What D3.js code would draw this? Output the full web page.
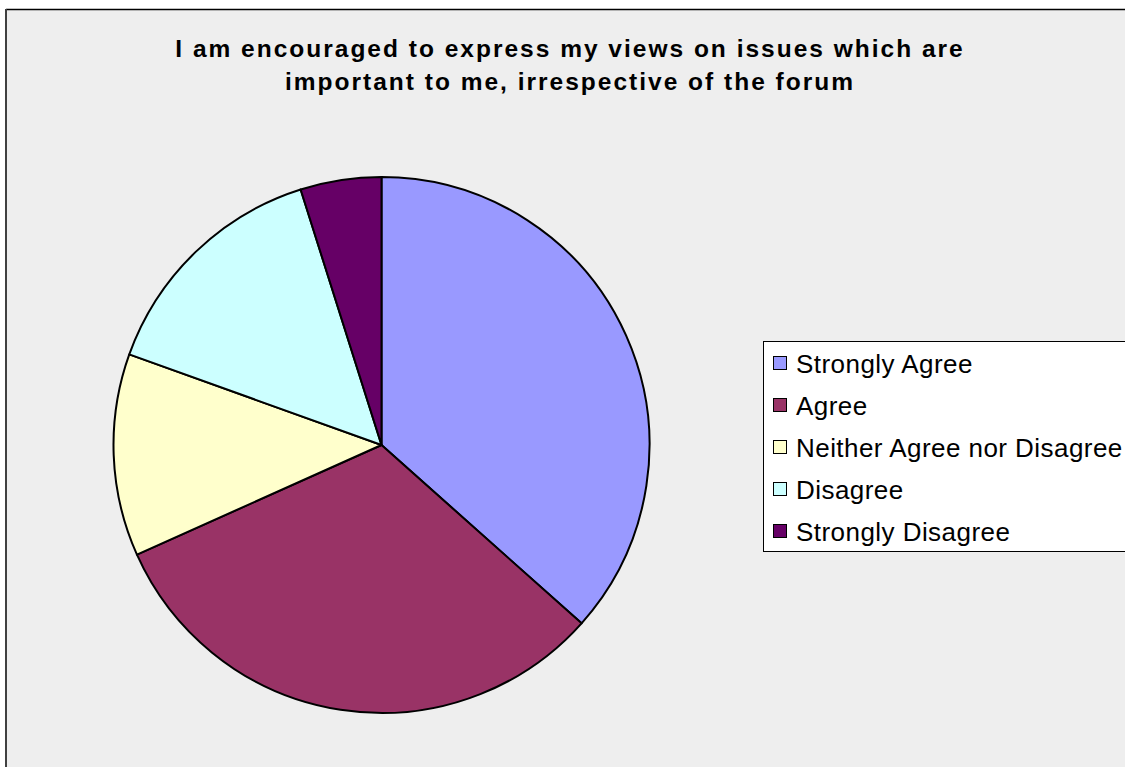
<!DOCTYPE html>
<html>
<head>
<meta charset="utf-8">
<script src="https://cdn.jsdelivr.net/npm/d3@7"></script>
<style>
  html, body { margin: 0; padding: 0; background: #ffffff; }
  svg { display: block; }
</style>
</head>
<body>
<svg id="chart" width="1125" height="767"></svg>
<script>
// Survey responses (counts per answer)
const categories = ["Strongly Agree", "Agree", "Neither Agree nor Disagree", "Disagree", "Strongly Disagree"];
const responses = [15, 13, 5, 6, 2];
const titleLines = [
  "I am encouraged to express my views on issues which are",
  "important to me, irrespective of the forum"
];

// Classic office palette for the slices
const palette = ["#9999ff", "#993366", "#ffffcc", "#ccffff", "#660066"];

const W = 1125, H = 767;
const svg = d3.select("#chart");

// Chart area with its frame
svg.append("rect")
  .attr("x", 6).attr("y", 9)
  .attr("width", W + 10).attr("height", H + 10)
  .attr("fill", "#eeeeee");
svg.append("line")
  .attr("x1", 6).attr("x2", W + 10).attr("y1", 9.5).attr("y2", 9.5)
  .attr("stroke", "#000").attr("stroke-width", 1.5);
svg.append("line")
  .attr("x1", 6).attr("x2", 6).attr("y1", 9).attr("y2", H + 10)
  .attr("stroke", "#404040").attr("stroke-width", 2);

// Title
const title = svg.append("text")
  .attr("text-anchor", "middle")
  .attr("font-family", "'Liberation Sans', Arial, sans-serif")
  .attr("font-weight", "bold")
  .attr("font-size", 24.5)
  .attr("letter-spacing", 2.0)
  .attr("fill", "#000");
title.selectAll("tspan")
  .data(titleLines)
  .join("tspan")
  .attr("x", 570)
  .attr("y", (d, i) => 57 + i * 33)
  .text(d => d);

// Pie
const cx = 381.5, cy = 445, radius = 268;
const pie = d3.pie().sort(null).value(d => d.value);
const arc = d3.arc().innerRadius(0).outerRadius(radius);
const slices = categories.map((c, i) => ({ name: c, value: responses[i], color: palette[i] }));

svg.append("g")
  .attr("transform", `translate(${cx},${cy})`)
  .selectAll("path")
  .data(pie(slices))
  .join("path")
  .attr("d", arc)
  .attr("fill", d => d.data.color)
  .attr("stroke", "#000")
  .attr("stroke-width", 2)
  .attr("stroke-linejoin", "round");

// Legend
const legend = svg.append("g");
legend.append("rect")
  .attr("x", 763.5).attr("y", 341.5)
  .attr("width", 380).attr("height", 210)
  .attr("fill", "#ffffff")
  .attr("stroke", "#000").attr("stroke-width", 1);

const rowY = d3.scalePoint().domain(categories).range([363, 531]);
const items = legend.selectAll("g.item")
  .data(slices)
  .join("g")
  .attr("class", "item")
  .attr("transform", d => `translate(0,${rowY(d.name)})`);
items.append("rect")
  .attr("x", 773.5).attr("y", -6.5)
  .attr("width", 13).attr("height", 13)
  .attr("fill", d => d.color)
  .attr("stroke", "#000").attr("stroke-width", 1);
items.append("text")
  .attr("x", 796).attr("y", 9.5)
  .attr("font-family", "'Liberation Sans', Arial, sans-serif")
  .attr("font-size", 26)
  .attr("letter-spacing", 0.45)
  .attr("fill", "#000")
  .text(d => d.name);
</script>
</body>
</html>
